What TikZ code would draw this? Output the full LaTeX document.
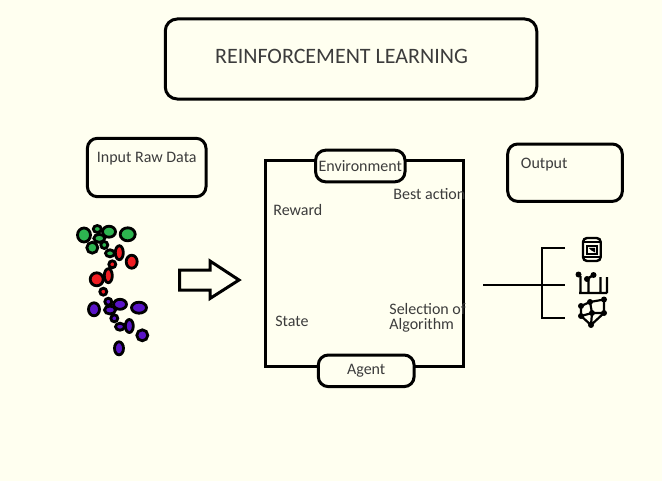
\documentclass[tikz,border=0pt]{standalone}
\usepackage{fontspec}
\setmainfont{Carlito}
\usetikzlibrary{positioning}
\definecolor{paper}{RGB}{255,255,240}
\definecolor{ink}{RGB}{60,60,60}
\definecolor{dotgreen}{RGB}{45,180,80}
\definecolor{dotred}{RGB}{240,30,35}
\definecolor{dotpurple}{RGB}{90,20,200}

\begin{document}
\begin{tikzpicture}[x=0.5pt,y=-0.5pt,
  box/.style={draw,line width=1.5pt,rounded corners=5pt,fill=paper},
  lbl/.style={text=ink,font=\fontsize{8}{9.5}\selectfont,inner sep=0pt},
  blob/.style={draw,line width=1.4pt},
  wire/.style={line width=1pt},
  dot/.style={fill,radius=1.5pt}]
\fill[paper] (0,0) rectangle (662,481);
\useasboundingbox (0,0) rectangle (662,481);

% heading
\node[box,rounded corners=6pt,minimum width=185.75pt,minimum height=40pt] (head) at (351,59) {};
\node[lbl,font=\fontsize{11}{13}\selectfont] (headtext) at (341.5,56) {REINFORCEMENT LEARNING};

% input and output boxes
\node[box,minimum width=59.3pt,minimum height=29.2pt] (input) at (146.7,167.5) {};
\node[lbl,anchor=west] (inputtext) at (96.5,158.3) {Input Raw Data};
\node[box,minimum width=57.3pt,minimum height=28.7pt] (output) at (565,172.7) {};
\node[lbl,anchor=west] (outputtext) at (520.5,164.3) {Output};

% raw data points
\foreach \x/\y/\a/\b in {84/235/6.5/7, 97.3/229/4/3.5, 109/231.7/6.5/5.5, 127.7/234.3/7.5/6.5,
    99.3/238.3/5.5/4, 92.3/247.7/5.5/5.5, 104.3/245/3.5/3.5, 110/253.3/4.5/3.5}
  \draw[blob,fill=dotgreen] (\x,\y) ellipse [x radius=\a*0.5pt, y radius=\b*0.5pt];
\foreach \x/\y/\a/\b in {119.3/252.7/4/7, 131.7/261.7/5.5/6.5, 112.3/264.3/3.5/3.5,
    108.3/275.7/4/7, 96.7/279.3/6.5/6.5, 103.3/291.7/3.5/3.5}
  \draw[blob,fill=dotred] (\x,\y) ellipse [x radius=\a*0.5pt, y radius=\b*0.5pt];
\foreach \x/\y/\a/\b in {108.3/301.7/3.5/3.5, 120/304.3/6.5/5, 94/309.3/5.5/6.5, 110/310/5.5/4,
    139/307.7/7.5/5.5, 114.3/318.3/3.5/3.5, 120/326.7/4.5/3.5, 129.3/326/4/6.5, 142.3/335.3/5.5/5.5,
    119/348.3/4.5/6.5}
  \draw[blob,fill=dotpurple] (\x,\y) ellipse [x radius=\a*0.5pt, y radius=\b*0.5pt];

% hollow arrow
\draw[line width=1.5pt,line join=miter] (179.5,270) -- (210,270) -- (210,261) -- (239,280)
  -- (210,298.5) -- (210,290) -- (179.5,290) -- cycle;

% the loop
\draw[line width=1.5pt] (265,160.7) rectangle (463.3,366.7);
\node[box,lbl,minimum width=44.7pt,minimum height=15.8pt] (env) at (360.3,166) {Environment};
\node[box,lbl,minimum width=47.9pt,minimum height=15.8pt] (agent) at (366.2,370.8) {Agent};
\node[lbl,anchor=west] (reward) at (273,210) {Reward};
\node[lbl,anchor=west] (best) at (393,194) {Best action};
\node[lbl,anchor=west] (state) at (275,321.7) {State};
\node[lbl,anchor=west,align=left,font=\fontsize{8}{7.6}\selectfont] (select) at (389,317.5) {Selection of\\Algorithm};

% output fork
\coordinate (loopout) at (483,285);
\coordinate (hub) at (541.5,285);
\coordinate (fork1) at (541.5,248);
\coordinate (fork3) at (541.5,318);
\coordinate (tip1) at (565,248);
\coordinate (tip2) at (565,285);
\coordinate (tip3) at (565,318);
\draw[wire] (loopout) -- (hub) -- (tip2);
\draw[wire] (tip1) -- (fork1) -- (fork3) -- (tip3);

% icons
\draw[line width=1.2pt,rounded corners=2pt] (583,238) rectangle (600.7,261);
\draw[line width=1pt] (583,242.3) -- (600.7,242.3) (583,256.7) -- (600.7,256.7);
\draw[line width=1pt] (586.7,245.7) rectangle (596.7,254);
\fill (588.5,247.8) -- (595,247.8) -- (595,252.5) -- (591.5,250.5) -- cycle;

\draw[line width=1.2pt] (579,293) -- (607,293)
  (580.5,276) -- (580.5,293) (588.5,280) -- (588.5,293)
  (600.5,277) -- (600.5,293) (607,277) -- (607,293)
  (587,279) -- (593.5,275);
\fill[dot] (578.5,274.5) circle [] (587,279) circle [] (593.5,275) circle [];

\draw[line width=1.1pt] (581,306) -- (590,302) -- (604,299.5) -- (604,313) -- (591,325)
  -- (581,316) -- cycle (590,302) -- (592,313) -- (604,313) (581,316) -- (592,313) -- (591,325);
\foreach \p in {(581,306),(590,302),(604,299.5),(604,313),(591,325),(581,316),(592,313)}
  \fill[dot] \p circle [];
\end{tikzpicture}
\end{document}
